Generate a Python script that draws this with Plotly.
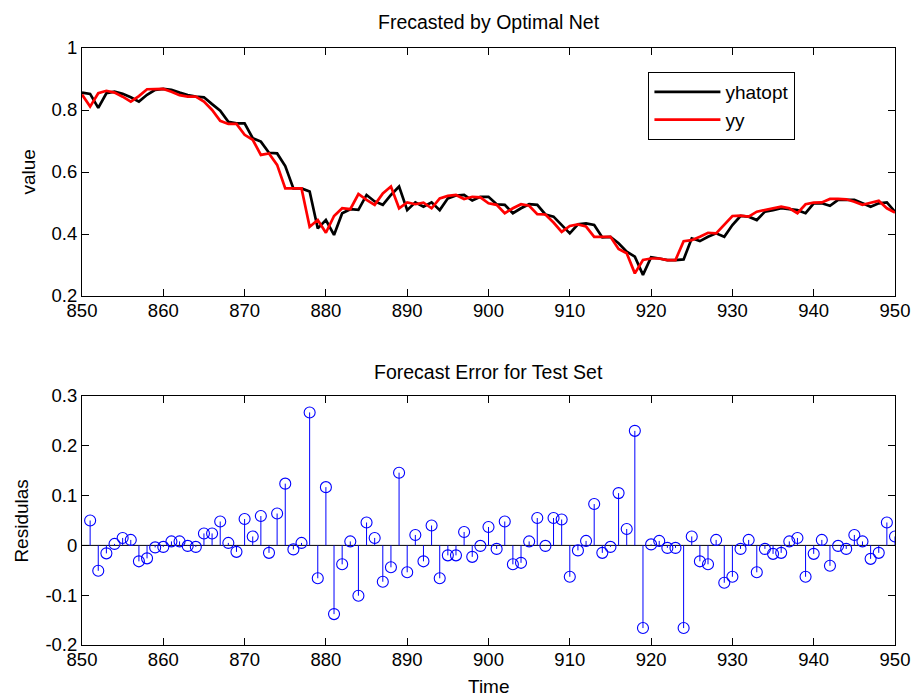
import plotly.graph_objects as go

# ---------------- data ----------------
time_top = list(range(850, 951))
yhatopt = [0.856, 0.852, 0.807, 0.854, 0.859, 0.852, 0.841, 0.827, 0.849, 0.865,
           0.868, 0.865, 0.856, 0.848, 0.843, 0.841, 0.819, 0.798, 0.762, 0.757,
           0.757, 0.709, 0.698, 0.662, 0.660, 0.619, 0.547, 0.547, 0.537, 0.418,
           0.445, 0.397, 0.467, 0.480, 0.478, 0.526, 0.505, 0.494, 0.526, 0.553,
           0.477, 0.502, 0.488, 0.502, 0.477, 0.515, 0.524, 0.526, 0.508, 0.520,
           0.520, 0.496, 0.494, 0.467, 0.483, 0.496, 0.494, 0.463, 0.456, 0.429,
           0.402, 0.431, 0.434, 0.429, 0.389, 0.391, 0.370, 0.343, 0.327, 0.268,
           0.325, 0.321, 0.316, 0.316, 0.318, 0.386, 0.377, 0.391, 0.402, 0.391,
           0.429, 0.458, 0.456, 0.445, 0.472, 0.477, 0.483, 0.480, 0.477, 0.467,
           0.499, 0.499, 0.491, 0.510, 0.510, 0.510, 0.499, 0.488, 0.499, 0.502,
           0.472]
yy = [0.850, 0.811, 0.854, 0.862, 0.856, 0.843, 0.827, 0.845, 0.867, 0.867,
      0.868, 0.859, 0.848, 0.843, 0.843, 0.827, 0.800, 0.765, 0.755, 0.755,
      0.720, 0.704, 0.655, 0.660, 0.623, 0.547, 0.547, 0.547, 0.423, 0.445,
      0.404, 0.458, 0.483, 0.480, 0.529, 0.510, 0.494, 0.531, 0.553, 0.483,
      0.502, 0.496, 0.501, 0.483, 0.515, 0.523, 0.526, 0.513, 0.520, 0.518,
      0.499, 0.494, 0.467, 0.483, 0.496, 0.491, 0.464, 0.463, 0.437, 0.407,
      0.426, 0.431, 0.424, 0.391, 0.391, 0.391, 0.352, 0.338, 0.273, 0.316,
      0.321, 0.321, 0.316, 0.316, 0.377, 0.380, 0.391, 0.404, 0.402, 0.429,
      0.458, 0.459, 0.456, 0.472, 0.477, 0.483, 0.488, 0.483, 0.467, 0.496,
      0.501, 0.502, 0.513, 0.513, 0.512, 0.504, 0.494, 0.501, 0.507, 0.483,
      0.469]

time_err = list(range(851, 951))
residuals = [0.050, -0.051, -0.016, 0.003, 0.015, 0.011, -0.032, -0.026, -0.004, -0.003,
             0.008, 0.008, -0.001, -0.003, 0.024, 0.024, 0.048, 0.005, -0.013, 0.053,
             0.018, 0.059, -0.015, 0.064, 0.124, -0.008, 0.005, 0.267, -0.066, 0.117,
             -0.138, -0.038, 0.008, -0.101, 0.046, 0.015, -0.073, -0.044, 0.146, -0.054,
             0.021, -0.032, 0.040, -0.066, -0.020, -0.020, 0.027, -0.023, -0.001, 0.037,
             -0.007, 0.048, -0.038, -0.035, 0.008, 0.055, -0.001, 0.055, 0.052, -0.063,
             -0.010, 0.009, 0.083, -0.015, -0.003, 0.105, 0.033, 0.230, -0.166, 0.002,
             0.009, -0.005, -0.005, -0.166, 0.018, -0.032, -0.038, 0.011, -0.075, -0.063,
             -0.007, 0.011, -0.054, -0.007, -0.017, -0.015, 0.008, 0.015, -0.063, -0.017,
             0.011, -0.041, -0.001, -0.007, 0.021, 0.008, -0.027, -0.015, 0.046, 0.018]

x_ticks = [850, 860, 870, 880, 890, 900, 910, 920, 930, 940, 950]
top_yticks = [0.2, 0.4, 0.6, 0.8, 1.0]
top_ytext = ["0.2", "0.4", "0.6", "0.8", "1"]
bot_yticks = [-0.2, -0.1, 0.0, 0.1, 0.2, 0.3]
bot_ytext = ["-0.2", "-0.1", "0", "0.1", "0.2", "0.3"]

# ---------------- figure ----------------
FONT = "Liberation Sans, Arial, sans-serif"
W, H = 922, 696
ML, MR, MT, MB = 82, 19, 48, 51
PH = H - MT - MB
PW = W - ML - MR

def py(px):  # pixel y -> paper
    return (H - MB - px) / PH

def pxx(px):  # pixel x -> paper
    return (px - ML) / PW

fig = go.Figure()

fig.add_trace(go.Scatter(x=time_top, y=yhatopt, mode="lines", name="yhatopt",
                         line=dict(color="black", width=2.7), xaxis="x", yaxis="y"))
fig.add_trace(go.Scatter(x=time_top, y=yy, mode="lines", name="yy",
                         line=dict(color="#ff0000", width=2.7), xaxis="x", yaxis="y"))

stem_x, stem_y = [], []
for t, r in zip(time_err, residuals):
    stem_x += [t, t, None]
    stem_y += [0, r, None]
fig.add_trace(go.Scatter(x=stem_x, y=stem_y, mode="lines", showlegend=False,
                         line=dict(color="#0000ff", width=1), xaxis="x2", yaxis="y2",
                         hoverinfo="skip"))
fig.add_trace(go.Scatter(x=time_err, y=residuals, mode="markers", showlegend=False,
                         marker=dict(symbol="circle-open", size=11, color="#0000ff",
                                     line=dict(width=1.1, color="#0000ff")),
                         xaxis="x2", yaxis="y2"))

axis_common = dict(showline=True, linecolor="black", linewidth=1, mirror="ticks",
                   ticks="inside", ticklen=7, tickcolor="black", tickwidth=1,
                   showgrid=False, zeroline=False,
                   tickfont=dict(family=FONT, size=18.5, color="black"))

top_dom = [py(296), 1.0]
bot_dom = [0.0, py(396)]

fig.update_layout(
    width=W, height=H,
    margin=dict(l=ML, r=MR, t=MT, b=MB),
    paper_bgcolor="white", plot_bgcolor="white",
    font=dict(family=FONT, size=19, color="black"),
    xaxis=dict(domain=[0, 1], range=[850, 950], tickvals=x_ticks, anchor="y",
               ticklabelstandoff=-2, **axis_common),
    yaxis=dict(domain=top_dom, range=[0.2, 1.0], tickvals=top_yticks, ticktext=top_ytext,
               anchor="x", **axis_common),
    xaxis2=dict(domain=[0, 1], range=[850, 950], tickvals=x_ticks, anchor="y2",
                ticklabelstandoff=-2, **axis_common),
    yaxis2=dict(domain=bot_dom, range=[-0.2, 0.3], tickvals=bot_yticks, ticktext=bot_ytext,
                anchor="x2", **axis_common),
    showlegend=True,
    legend=dict(x=pxx(654), y=py(72), xanchor="left", yanchor="top",
                bordercolor="black", borderwidth=1, bgcolor="white",
                font=dict(family=FONT, size=19, color="black"),
                itemwidth=66),
    shapes=[dict(type="line", xref="x2 domain", yref="y2", x0=0, x1=1, y0=0, y1=0,
                 line=dict(color="black", width=1), layer="below")],
    annotations=[
        dict(text="Frecasted by Optimal Net", xref="paper", yref="paper", x=0.5, y=py(22),
             xanchor="center", yanchor="middle", showarrow=False, font=dict(size=19.5)),
        dict(text="Forecast Error for Test Set", xref="paper", yref="paper", x=0.5, y=py(372),
             xanchor="center", yanchor="middle", showarrow=False, font=dict(size=19.5)),
        dict(text="value", xref="paper", yref="paper", x=pxx(27), y=py(172),
             xanchor="center", yanchor="middle", textangle=-90, showarrow=False,
             font=dict(size=19)),
        dict(text="Residulas", xref="paper", yref="paper", x=pxx(20), y=py(521),
             xanchor="center", yanchor="middle", textangle=-90, showarrow=False,
             font=dict(size=19)),
        dict(text="Time", xref="paper", yref="paper", x=0.5, y=py(686),
             xanchor="center", yanchor="middle", showarrow=False, font=dict(size=19)),
    ],
)

fig.write_html("out.html", config={"displayModeBar": False},
               post_script="document.body.style.margin='0';document.body.style.overflow='hidden';")
